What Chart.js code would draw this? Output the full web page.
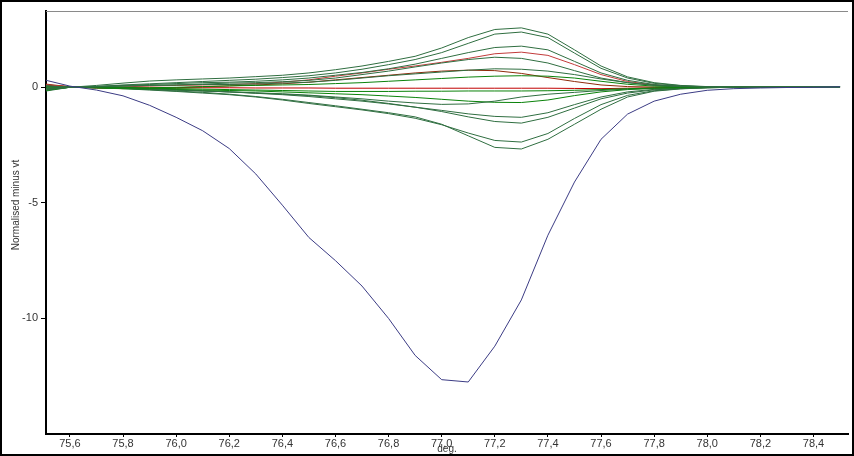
<!DOCTYPE html>
<html>
<head>
<meta charset="utf-8">
<title>Normalised minus vt</title>
<script src="https://cdn.jsdelivr.net/npm/chart.js@4.4.1/dist/chart.umd.min.js"></script>
<style>
    body { margin: 0; background: #fff; }
    canvas { display: block; }
</style>
</head>
<body>
<canvas id="meltChart" width="854" height="456"></canvas>
<script>
// Temperatures (deg.)
const temps = [75.5, 75.6, 75.7, 75.8, 75.9, 76.0, 76.1, 76.2, 76.3, 76.4, 76.5,
    76.6, 76.7, 76.8, 76.9, 77.0, 77.1, 77.2, 77.3, 77.4, 77.5,
    77.6, 77.7, 77.8, 77.9, 78.0, 78.1, 78.2, 78.3, 78.4, 78.5];

// Tick labels
const xTicks = [75.6, 75.8, 76.0, 76.2, 76.4, 76.6, 76.8, 77.0, 77.2, 77.4, 77.6, 77.8, 78.0, 78.2, 78.4];
const yTicks = [0, -5, -10];
const X_TITLE = 'deg.';
const Y_TITLE = 'Normalised minus vt';

// Blue sample
const blueSample = [0.33, 0.05, -0.12, -0.37, -0.78, -1.3, -1.88, -2.65, -3.75, -5.1, -6.5,
    -7.5, -8.6, -10.0, -11.6, -12.65, -12.75, -11.2, -9.2, -6.4, -4.1,
    -2.25, -1.16, -0.6, -0.3, -0.13, -0.06, -0.03, -0.01, 0, 0.02];

// Green samples
const green1 = [-0.1, 0, 0.08, 0.18, 0.27, 0.32, 0.36, 0.4, 0.46, 0.52, 0.62,
    0.76, 0.92, 1.12, 1.34, 1.7, 2.15, 2.5, 2.57, 2.3, 1.62,
    0.92, 0.45, 0.2, 0.08, 0.03, 0.01, 0, 0, 0, 0.02];
const green2 = [0.05, 0, 0.03, 0.1, 0.15, 0.2, 0.25, 0.3, 0.35, 0.42, 0.5,
    0.62, 0.78, 0.98, 1.2, 1.5, 1.9, 2.3, 2.39, 2.15, 1.48,
    0.82, 0.4, 0.17, 0.07, 0.02, 0, 0, 0, 0, 0.02];
const green3 = [-0.05, 0, 0.04, 0.08, 0.12, 0.16, 0.2, 0.22, 0.26, 0.32, 0.4,
    0.52, 0.64, 0.8, 1.0, 1.25, 1.5, 1.72, 1.78, 1.62, 1.12,
    0.62, 0.3, 0.12, 0.05, 0.02, 0, 0, 0, 0, 0.02];
const green4 = [0.08, 0, 0.02, 0.05, 0.08, 0.1, 0.14, 0.18, 0.2, 0.24, 0.3,
    0.4, 0.55, 0.7, 0.88, 1.05, 1.2, 1.3, 1.25, 1.05, 0.72,
    0.4, 0.2, 0.08, 0.03, 0.01, 0, 0, 0, 0, 0.02];
const green5 = [-0.12, 0, 0.03, 0.06, 0.08, 0.1, 0.12, 0.12, 0.14, 0.18, 0.22,
    0.3, 0.4, 0.5, 0.58, 0.66, 0.74, 0.8, 0.78, 0.7, 0.55,
    0.36, 0.2, 0.09, 0.04, 0.02, 0, 0, 0, 0, 0.02];
const green6 = [0, 0, -0.02, -0.04, -0.02, 0, 0.03, 0.06, 0.08, 0.1, 0.12,
    0.16, 0.2, 0.26, 0.32, 0.38, 0.44, 0.48, 0.5, 0.48, 0.4,
    0.26, 0.13, 0.05, 0.02, 0.01, 0, 0, 0, 0, 0.02];
const green7 = [-0.15, 0, 0.02, 0, -0.04, -0.06, -0.08, -0.1, -0.12, -0.14, -0.16,
    -0.18, -0.18, -0.18, -0.17, -0.17, -0.16, -0.16, -0.16, -0.15, -0.13,
    -0.1, -0.06, -0.03, -0.01, 0, 0, 0, 0, 0, 0.02];
const green8 = [-0.08, 0, 0, -0.04, -0.08, -0.12, -0.16, -0.2, -0.24, -0.28, -0.34,
    -0.42, -0.5, -0.6, -0.68, -0.74, -0.72, -0.6, -0.42, -0.3, -0.22,
    -0.14, -0.08, -0.04, -0.02, 0, 0, 0, 0, 0, 0.02];
const green9 = [0.05, 0, -0.02, -0.06, -0.08, -0.1, -0.12, -0.14, -0.16, -0.2, -0.24,
    -0.28, -0.32, -0.38, -0.44, -0.52, -0.6, -0.65, -0.66, -0.55, -0.36,
    -0.2, -0.1, -0.05, -0.02, -0.01, 0, 0, 0, 0, 0.02];
const green10 = [-0.1, 0, 0.01, -0.03, -0.06, -0.1, -0.15, -0.2, -0.26, -0.32, -0.4,
    -0.5, -0.6, -0.72, -0.86, -1.0, -1.15, -1.26, -1.3, -1.1, -0.75,
    -0.42, -0.2, -0.09, -0.04, -0.01, 0, 0, 0, 0, 0.02];
const green11 = [0.02, 0, -0.02, -0.05, -0.08, -0.12, -0.16, -0.2, -0.25, -0.3, -0.36,
    -0.45, -0.56, -0.7, -0.86, -1.05, -1.28, -1.48, -1.55, -1.3, -0.9,
    -0.5, -0.25, -0.11, -0.05, -0.02, 0, 0, 0, 0, 0.02];
const green12 = [-0.05, 0, 0, -0.06, -0.12, -0.18, -0.25, -0.32, -0.42, -0.55, -0.7,
    -0.84, -0.98, -1.14, -1.34, -1.62, -1.98, -2.3, -2.37, -2.0, -1.35,
    -0.75, -0.35, -0.15, -0.06, -0.02, 0, 0, 0, 0, 0.02];
const green13 = [-0.18, 0, 0.02, -0.04, -0.1, -0.16, -0.22, -0.3, -0.4, -0.52, -0.66,
    -0.8, -0.95, -1.1, -1.28, -1.6, -2.1, -2.6, -2.67, -2.25, -1.6,
    -0.95, -0.42, -0.17, -0.07, -0.02, 0, 0, 0, 0, 0.02];

// Red samples
const red1 = [0.12, 0.02, 0, 0.02, 0.05, 0.08, 0.1, 0.12, 0.16, 0.22, 0.32,
    0.48, 0.62, 0.78, 0.92, 1.08, 1.25, 1.45, 1.52, 1.38, 0.98,
    0.55, 0.25, 0.1, 0.04, 0.01, 0, 0, 0, 0, 0.01];
const red2 = [0.15, 0.02, -0.04, -0.06, -0.04, -0.02, 0.02, 0.06, 0.1, 0.15, 0.22,
    0.32, 0.42, 0.52, 0.62, 0.7, 0.74, 0.72, 0.6, 0.42, 0.25,
    0.1, 0.03, 0.01, 0, 0, 0, 0, 0, 0, 0];
const red3 = [0.1, 0.03, 0, -0.02, -0.03, -0.03, -0.02, -0.02, -0.03, -0.03, -0.03,
    -0.04, -0.04, -0.04, -0.04, -0.04, -0.04, -0.04, -0.04, -0.04, -0.05,
    -0.06, -0.04, -0.02, -0.01, 0, 0, 0, 0, 0, 0];

const FONT = '"Liberation Sans", Arial, sans-serif';

// Build a line dataset from one series
function makeLine(values, color) {
    return {
        data: temps.map((t, i) => ({ x: t, y: values[i] })),
        borderColor: color,
        borderWidth: 1,
        pointRadius: 0,
        tension: 0,
        fill: false
    };
}

// Frame, top edge and axis titles
const framePlugin = {
    id: 'frame',
    afterDraw(chart) {
        const { ctx, chartArea } = chart;
        ctx.save();
        ctx.strokeStyle = '#000';
        ctx.lineWidth = 2;
        ctx.strokeRect(1, 1, chart.width - 2, chart.height - 2);

        ctx.strokeStyle = '#8a8a8a';
        ctx.lineWidth = 1;
        ctx.beginPath();
        ctx.moveTo(chartArea.left, chartArea.top + 0.5);
        ctx.lineTo(chartArea.right, chartArea.top + 0.5);
        ctx.stroke();

        ctx.fillStyle = '#333';
        ctx.font = '10px ' + FONT;
        ctx.textAlign = 'center';
        ctx.textBaseline = 'alphabetic';
        ctx.fillText(X_TITLE, (chartArea.left + chartArea.right) / 2, 452);
        ctx.textBaseline = 'middle';
        ctx.translate(16, 205);
        ctx.rotate(-Math.PI / 2);
        ctx.fillText(Y_TITLE, 0, 0);
        ctx.restore();
    }
};

function createChart() {
    const ctx = document.getElementById('meltChart').getContext('2d');
    const greenDark = '#2f6e40';
    const greenBright = '#0a820a';

    new Chart(ctx, {
        type: 'line',
        data: {
            datasets: [
                makeLine(blueSample, '#3b3b84'),
                makeLine(green1, greenDark),
                makeLine(green2, greenDark),
                makeLine(green3, greenDark),
                makeLine(green4, greenDark),
                makeLine(green5, greenDark),
                makeLine(green6, greenBright),
                makeLine(green7, greenBright),
                makeLine(green8, greenDark),
                makeLine(green9, greenBright),
                makeLine(green10, greenDark),
                makeLine(green11, greenDark),
                makeLine(green12, greenDark),
                makeLine(green13, greenDark),
                makeLine(red1, '#c23b3b'),
                makeLine(red2, '#8f2a0a'),
                makeLine(red3, '#c00000')
            ]
        },
        options: {
            responsive: false,
            animation: false,
            layout: { padding: { top: 11, right: 6, left: 0, bottom: 0 } },
            plugins: {
                legend: { display: false },
                tooltip: { enabled: false }
            },
            scales: {
                x: {
                    type: 'linear',
                    min: 75.51,
                    max: 78.53,
                    afterBuildTicks: scale => { scale.ticks = xTicks.map(v => ({ value: v })); },
                    afterFit: scale => { scale.height = 22; },
                    ticks: {
                        callback: v => v.toFixed(1).replace('.', ','),
                        font: { size: 11, family: FONT },
                        color: '#333',
                        padding: 0,
                        maxRotation: 0,
                        autoSkip: false
                    },
                    grid: { drawOnChartArea: false, drawTicks: true, tickLength: 3, color: '#000' },
                    border: { color: '#000', width: 2 }
                },
                y: {
                    min: -15,
                    max: 3.3,
                    afterBuildTicks: scale => { scale.ticks = yTicks.map(v => ({ value: v })); },
                    afterFit: scale => { scale.width = 46; },
                    ticks: {
                        font: { size: 11, family: FONT },
                        color: '#333',
                        padding: 3
                    },
                    grid: { drawOnChartArea: false, drawTicks: true, tickLength: 5, color: '#000' },
                    border: { color: '#000', width: 2 }
                }
            }
        },
        plugins: [framePlugin]
    });
}

document.addEventListener('DOMContentLoaded', createChart);
</script>
</body>
</html>
